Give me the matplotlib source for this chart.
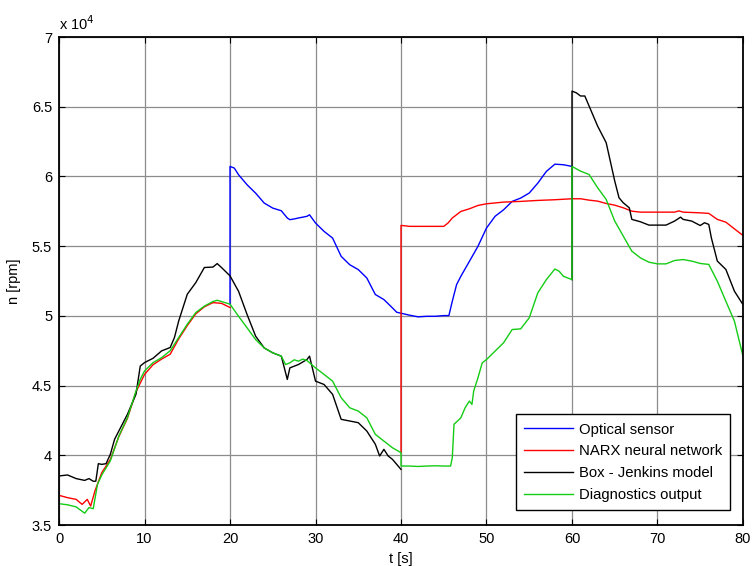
import matplotlib
matplotlib.use("Agg")
import matplotlib.pyplot as plt
import numpy as np

nan = np.nan

# Optical sensor (visible from the jump at t=20 until t=60)
t_opt = [20, 20, 20.5, 21, 22, 23, 24, 25, 26, 26.7, 27, 27.5, 28, 29, 29.3, 30, 31, 32, 33,
         34, 35, 36, 36.5, 37, 38, 39, 39.5, 40, 41, 42, 43, 44, 45, 45.6, 46, 46.5, 47, 48,
         49, 50, 51, 52, 53, 54, 55, 56, 57, 58, 59, 60]
n_opt = [50840, 60720, 60600, 60120, 59400, 58800, 58090, 57730, 57540, 57020, 56900, 56950,
         57020, 57140, 57250, 56660, 56060, 55580, 54270, 53670, 53320, 52720, 52120, 51530,
         51170, 50570, 50260, 50190, 50050, 49930, 49970, 49970, 50020, 50020, 51050, 52240,
         52840, 53910, 54990, 56300, 57140, 57610, 58210, 58450, 58810, 59520, 60360, 60880,
         60840, 60720]

# NARX neural network (0-20 and 40-80, hidden under diagnostics in between)
t_narx = [0, 1, 2, 2.7, 3.3, 3.7, 4.2, 5, 6, 7, 8, 9, 10, 11, 12, 13, 14, 15, 16, 17, 18, 19, 20,
          nan, 40, 40, 41, 42, 43, 44, 45, 45.5, 46, 47, 48, 49, 50, 52, 54, 56, 58, 60, 61,
          62, 63, 64, 65, 66, 67, 68, 70, 72, 72.5, 73, 75, 76, 77, 78, 79, 80]
n_narx = [37130, 36960, 36840, 36480, 36840, 36360, 37440, 38760, 39700, 41350, 42650, 44550,
          45800, 46500, 46900, 47250, 48350, 49300, 50150, 50650, 50950, 50900, 50600,
          nan, 40190, 56490, 56420, 56420, 56420, 56420, 56420, 56660, 57020, 57490, 57680,
          57920, 58040, 58160, 58210, 58280, 58330, 58400, 58400, 58300, 58230, 58060, 57940,
          57750, 57510, 57440, 57440, 57440, 57530, 57440, 57390, 57350, 56920, 56720, 56240,
          55770]

# Box - Jenkins model (0-40 and 60-80)
t_bj = [0, 1, 2, 3, 3.5, 4, 4.3, 4.6, 5, 5.5, 6, 6.5, 7, 8, 9, 9.5, 10, 11, 12, 13, 13.5, 14,
        15, 16, 17, 18, 18.5, 19, 20, 21, 22, 23, 24, 25, 26, 26.7, 27, 28, 29, 29.3, 30, 31,
        32, 33, 34, 35, 36, 37, 37.5, 38, 38.5, 39, 40,
        nan, 60, 60, 60.5, 61, 61.5, 62, 63, 64, 65, 65.5, 66, 66.7, 67, 68, 69, 70, 71, 72,
        72.7, 73, 74, 75, 75.5, 76, 76.3, 77, 78, 79, 80]
n_bj = [38520, 38590, 38330, 38200, 38330, 38140, 38140, 39400, 39350, 39400, 40070, 41150,
        41750, 42940, 44380, 46400, 46650, 46960, 47490, 47730, 48450, 49640, 51550, 52390,
        53470, 53500, 53750, 53470, 52870, 51760, 50090, 48540, 47700, 47350, 47110, 45440,
        46270, 46510, 46870, 47110, 45320, 45080, 44370, 42580, 42460, 42340, 41740, 40790,
        39950, 40430, 39950, 39710, 38990,
        nan, 52600, 66120, 66000, 65770, 65770, 65050, 63610, 62420, 59670, 58470, 58110,
        57750, 56920, 56750, 56510, 56510, 56510, 56800, 57080, 56920, 56800, 56480, 56680,
        56560, 55600, 53930, 53330, 51770, 50810]

# Diagnostics output (whole run)
t_diag = [0, 1, 2, 3, 3.5, 4, 4.5, 5, 6, 7, 8, 9, 9.5, 10, 11, 12, 13, 14, 15, 16, 17, 18,
          18.5, 19, 20, 21, 22, 23, 24, 25, 26, 26.5, 27, 27.5, 28, 28.5, 29, 30, 31, 32, 33,
          34, 35, 36, 37, 38, 39, 40, 40, 41, 42, 43, 44, 45, 45.8, 46, 46.2, 47, 47.5, 48,
          48.3, 48.5, 49, 49.5, 50, 51, 52, 53, 54, 55, 56, 57, 58, 58.5, 59, 60, 60, 61, 62,
          63, 64, 65, 66, 67, 68, 69, 70, 71, 72, 73, 74, 75, 76, 77, 78, 79, 80]
n_diag = [36530, 36450, 36300, 35850, 36250, 36170, 37920, 38590, 39600, 41390, 42700, 44600,
          45450, 46050, 46650, 47000, 47500, 48450, 49400, 50240, 50700, 51030, 51120, 51030,
          50840, 49970, 49140, 48300, 47700, 47350, 47110, 46510, 46630, 46850, 46750, 46900,
          46800, 46270, 45800, 45320, 44130, 43410, 43170, 42690, 41500, 41020, 40540, 40190,
          39230, 39230, 39200, 39230, 39250, 39230, 39230, 39830, 42220, 42690, 43410, 43890,
          43650, 44600, 45560, 46630, 46870, 47470, 48070, 49020, 49070, 49860, 51650, 52600,
          53360, 53200, 52840, 52600, 60720, 60380, 60140, 59190, 58350, 56800, 55720, 54640,
          54160, 53850, 53730, 53730, 53970, 54040, 53930, 53760, 53690, 52490, 51050, 49620,
          47110]

series = [
    ("Optical sensor", t_opt, n_opt, "#0000ff"),
    ("NARX neural network", t_narx, n_narx, "#ff0000"),
    ("Box - Jenkins model", t_bj, n_bj, "#000000"),
    ("Diagnostics output", t_diag, n_diag, "#15cc15"),
]

yticks = [35000, 40000, 45000, 50000, 55000, 60000, 65000, 70000]
ytick_labels = ["3.5", "4", "4.5", "5", "5.5", "6", "6.5", "7"]
xticks = [0, 10, 20, 30, 40, 50, 60, 70, 80]

plt.rcParams["font.family"] = ["Liberation Sans", "DejaVu Sans"]
plt.rcParams["font.size"] = 10.5

fig = plt.figure(figsize=(7.52, 5.66), dpi=100)
ax = fig.add_axes([0.0785, 0.0724, 0.9095, 0.8622])

for name, t, n, c in series:
    ax.plot(t, n, color=c, lw=1.0, label=name)

ax.set_xlim(0, 80)
ax.set_ylim(35000, 70000)
ax.set_xticks(xticks)
ax.set_yticks(yticks)
ax.set_yticklabels(ytick_labels)
ax.grid(True, color="#8c8c8c", lw=0.9, ls="-")
ax.set_axisbelow(True)
ax.tick_params(direction="in", top=True, right=True, length=4, width=0.8, labelsize=10.5,
               pad=5)
for s in ax.spines.values():
    s.set_linewidth(1.3)

ax.text(0.0, 1.008, r"x 10$^{4}$", transform=ax.transAxes, fontsize=10.5, ha="left",
        va="bottom")
ax.set_xlabel("t [s]", labelpad=4)
ax.set_ylabel("n [rpm]", labelpad=8)

leg = ax.legend(loc="lower right", bbox_to_anchor=(0.981, 0.031), borderaxespad=0,
                fancybox=False, framealpha=1, edgecolor="black", handlelength=3.3,
                borderpad=0.55, labelspacing=0.52, handletextpad=0.35, fontsize=10.7)
leg.get_frame().set_linewidth(1.0)

fig.savefig("out.png", dpi=100)
